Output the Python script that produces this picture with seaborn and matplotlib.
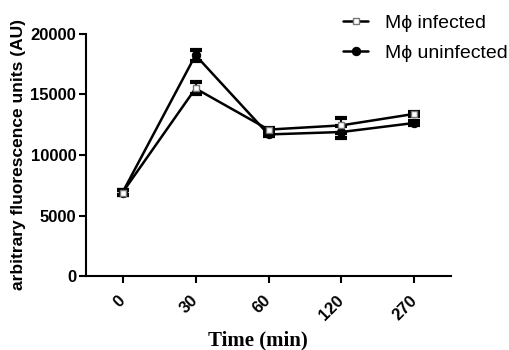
import matplotlib
matplotlib.use("Agg")
import matplotlib.pyplot as plt
import seaborn as sns
import pandas as pd
import numpy as np

time_labels = ["0", "30", "60", "120", "270"]
infected_mean = [6900, 15500, 12100, 12450, 13400]
infected_err = [200, 500, 150, 600, 150]
uninfected_mean = [6900, 18250, 11700, 11900, 12650]
uninfected_err = [200, 450, 150, 500, 150]

sns.set_style("ticks")
plt.rcParams['font.family'] = ['Liberation Sans', 'DejaVu Sans']
plt.rcParams['text.color'] = 'black'
plt.rcParams['axes.labelcolor'] = 'black'
plt.rcParams['xtick.color'] = 'black'
plt.rcParams['ytick.color'] = 'black'
plt.rcParams['axes.edgecolor'] = 'black'

fig = plt.figure(figsize=(5.1, 3.5), dpi=100)
ax = fig.add_axes([86/510, 74/350, 365/510, 242/350])

pos = np.arange(len(time_labels))
df = pd.DataFrame({
    "pos": np.concatenate([pos, pos]),
    "value": infected_mean + uninfected_mean,
    "group": ["Mϕ infected"] * 5 + ["Mϕ uninfected"] * 5,
})

# error bars
ax.errorbar(pos, uninfected_mean, yerr=uninfected_err, fmt="none", ecolor="black",
            elinewidth=1.5, capsize=4, capthick=3, zorder=2)
ax.errorbar(pos, infected_mean, yerr=infected_err, fmt="none", ecolor="black",
            elinewidth=1.5, capsize=4, capthick=3, zorder=2)

sns.lineplot(data=df[df.group == "Mϕ uninfected"], x="pos", y="value", ax=ax,
             color="black", linewidth=1.8, marker="o", markersize=6,
             markerfacecolor="black", markeredgecolor="black",
             label="Mϕ uninfected", zorder=3)
sns.lineplot(data=df[df.group == "Mϕ infected"], x="pos", y="value", ax=ax,
             color="black", linewidth=1.8, marker="s", markersize=5,
             markerfacecolor="white", markeredgecolor="#777777", markeredgewidth=1,
             label="Mϕ infected", zorder=4)

ax.set_xlim(-0.5, 4.5)
ax.set_ylim(0, 20000)
ax.set_yticks([0, 5000, 10000, 15000, 20000])
ax.set_xticks(pos)
ax.set_xticklabels(time_labels, rotation=45, ha="right", va="center",
                   rotation_mode="anchor", fontsize=12, fontweight="bold")
for t in ax.get_yticklabels():
    t.set_fontsize(12)
    t.set_fontweight("bold")
ax.tick_params(axis="both", direction="out", length=5, width=1.5, pad=2)
ax.tick_params(axis="x", pad=11)
for s in ["left", "bottom"]:
    ax.spines[s].set_linewidth(1.5)
sns.despine(ax=ax)

ax.set_xlabel("Time (min)", fontsize=15, fontweight="bold", family="Liberation Serif", labelpad=2)
ax.xaxis.set_label_coords(0.471, -0.225)
ax.set_ylabel("arbitrary fluorescence units (AU)", fontsize=12.5, fontweight="bold", labelpad=3)

handles, labels = ax.get_legend_handles_labels()
order = [labels.index("Mϕ infected"), labels.index("Mϕ uninfected")]
ax.legend([handles[i] for i in order], [labels[i] for i in order],
          loc="upper left", bbox_to_anchor=(343/510, 1 - 14/350), bbox_transform=fig.transFigure,
          frameon=False, fontsize=14, handlelength=1.3, handletextpad=0.85,
          labelspacing=0.65, borderpad=0, borderaxespad=0)

fig.savefig("out.png", dpi=100)
